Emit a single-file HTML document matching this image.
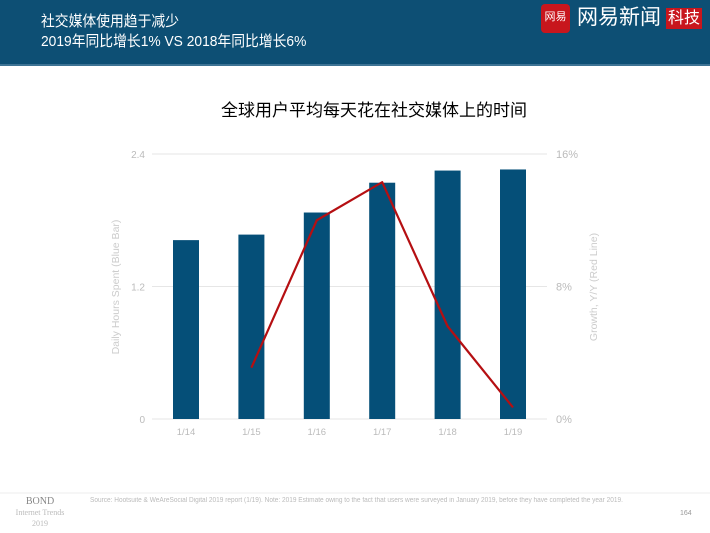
<!DOCTYPE html>
<html><head><meta charset="utf-8"><style>
body{margin:0;width:710px;height:533px;background:#fff;font-family:"Liberation Sans","Noto Sans CJK SC",sans-serif;position:relative;overflow:hidden}
.hdr{position:absolute;left:0;top:0;width:710px;height:64px;background:#0d4f74;border-bottom:2px solid #3d7394}
.t{position:absolute;left:41px;color:#fff;font-size:15px;line-height:18px;transform:scaleX(0.92);transform-origin:left}
</style></head><body>
<div class="hdr">
<div class="t" style="top:13px">社交媒体使用趋于减少</div>
<div class="t" style="top:33px">2019年同比增长1% VS 2018年同比增长6%</div>
<div style="position:absolute;left:541px;top:4px;width:29px;height:29px;background:#c8161d;border-radius:4px;color:#fff;font-size:11px;text-align:center;line-height:26px">网易</div>
<div style="position:absolute;left:577px;top:4px;color:#fff;font-size:21px;line-height:28px">网易新闻</div>
<div style="position:absolute;left:666px;top:8px;background:#c8161d;color:#fff;font-size:16px;line-height:21px;padding:0 2px">科技</div>
</div>
<div style="position:absolute;left:0;width:710px;top:96px;text-align:center;font-size:17px;color:#000;padding-left:38px;box-sizing:border-box">全球用户平均每天花在社交媒体上的时间</div>
<svg id="c" width="710" height="533" style="position:absolute;left:0;top:0"></svg>
<div style="position:absolute;left:0;width:80px;top:496px;text-align:center;font-family:'Liberation Serif',serif;color:#888;font-size:10px;line-height:11px">BOND<br><span style="font-size:8px;color:#bbb">Internet Trends<br>2019</span></div>
<div style="position:absolute;left:90px;top:497px;font-size:7px;color:#bbb;white-space:nowrap;transform:scaleX(0.93);transform-origin:left">Source: Hootsuite &amp; WeAreSocial Digital 2019 report (1/19).  Note: 2019 Estimate owing to the fact that users were surveyed in January 2019, before they have completed the year 2019.</div>
<div style="position:absolute;left:680px;top:510px;font-size:7px;color:#999">164</div>
<script>
const categories=["1/14","1/15","1/16","1/17","1/18","1/19"];
const hours=[1.62,1.67,1.87,2.14,2.25,2.26];
const growth=[null,3.1,12.0,14.3,5.6,0.7];
const leftTicks=["0","1.2","2.4"];
const leftTickVals=[0,1.2,2.4];
const rightTicks=["0%","8%","16%"];
const rightTickVals=[0,8,16];
const svg=document.getElementById('c');const NS='http://www.w3.org/2000/svg';
const x0=152,x1=547,yTop=154,yBot=419;
const yL=v=>yBot-(v/2.4)*(yBot-yTop);
const yR=v=>yBot-(v/16)*(yBot-yTop);
const xC=i=>186+i*65.4;
function mk(t,a,txt){const e=document.createElementNS(NS,t);for(const k in a)e.setAttribute(k,a[k]);if(txt!=null)e.textContent=txt;svg.appendChild(e);return e;}
leftTickVals.forEach((v,i)=>{
const g=mk('line',{x1:x0,x2:x1,y1:yL(v),y2:yL(v),stroke:'#e6e6e6','stroke-width':1});


const t=mk('text',{x:145,y:yL(v)+4,'text-anchor':'end','font-size':10,fill:'#bbb','font-family':'Liberation Sans'},leftTicks[i]);


});
rightTickVals.forEach((v,i)=>{
const t=mk('text',{x:556,y:yR(v)+4,'font-size':11,fill:'#bbb','font-family':'Liberation Sans'},rightTicks[i]);


});
hours.forEach((v,i)=>{
const b=mk('rect',{x:xC(i)-13,y:yL(v),width:26,height:yBot-yL(v),fill:'#054f78'});


const t=mk('text',{x:xC(i),y:435,'text-anchor':'middle','font-size':9.5,fill:'#bbb','font-family':'Liberation Sans'},categories[i]);


});
let pts=[];growth.forEach((v,i)=>{if(v!=null)pts.push(xC(i)+','+yR(v));});
const l=mk('polyline',{points:pts.join(' '),fill:'none',stroke:'#b50f12','stroke-width':2.2,'stroke-linejoin':'round'});


const ya=mk('text',{x:0,y:0,transform:'translate(119,287) rotate(-90)','text-anchor':'middle','font-size':10.5,fill:'#ccc','font-family':'Liberation Sans'},'Daily Hours Spent (Blue Bar)');


const yb=mk('text',{x:0,y:0,transform:'translate(597,287) rotate(-90)','text-anchor':'middle','font-size':10.5,fill:'#ccc','font-family':'Liberation Sans'},'Growth, Y/Y (Red Line)');


const sep=mk('line',{x1:0,x2:710,y1:493,y2:493,stroke:'#eee','stroke-width':1});


</script>
</body></html>
